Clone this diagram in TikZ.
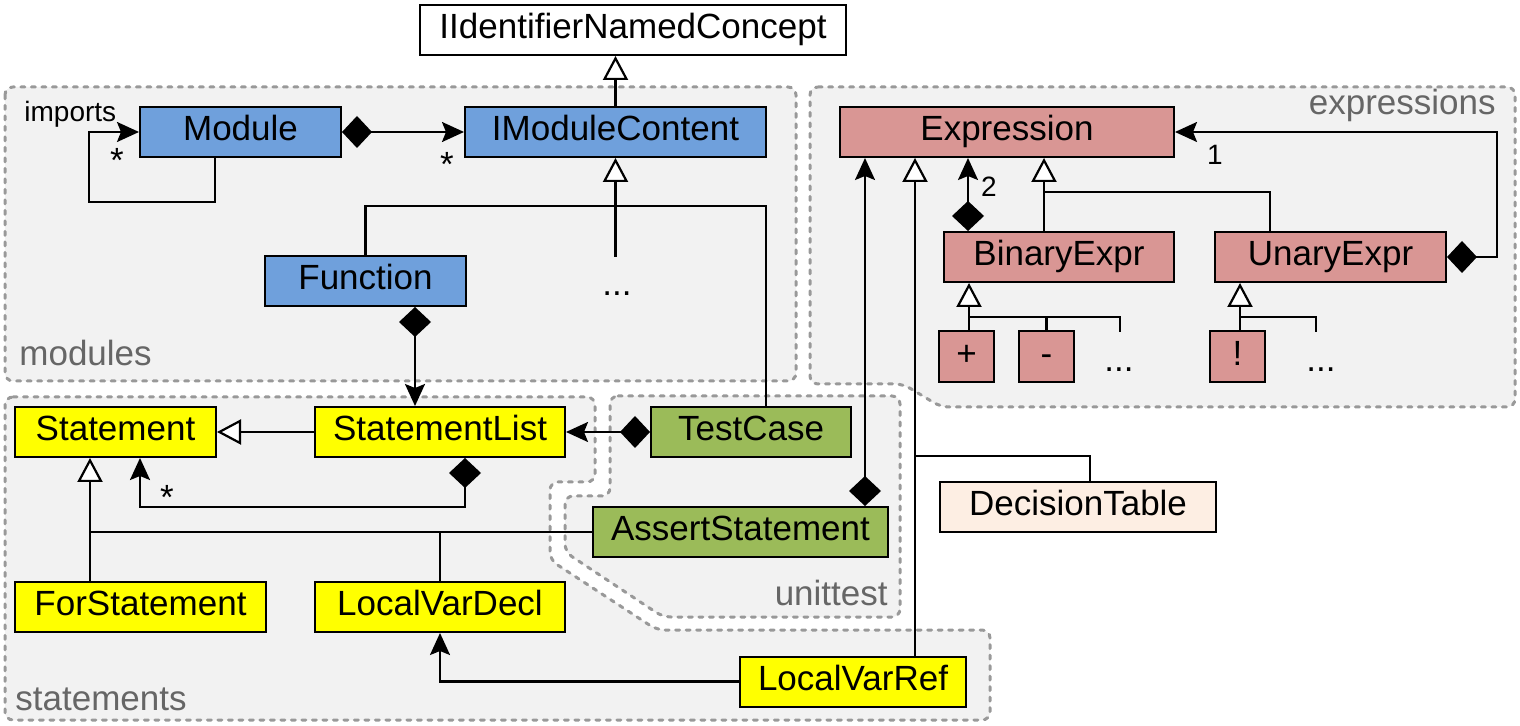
\documentclass[tikz,border=0pt]{standalone}
\usepackage{fontspec}
\setmainfont{Liberation Sans}
\setsansfont{Liberation Sans}
\usetikzlibrary{
  arrows.meta,
  positioning,
  calc
}
\definecolor{moduleblue}{HTML}{6FA0DC}
\definecolor{exprred}{HTML}{D99694}
\definecolor{stmtyellow}{HTML}{FFFF00}
\definecolor{testgreen}{HTML}{9BBB59}
\definecolor{tablepeach}{HTML}{FDEEE3}
\definecolor{pkgfill}{HTML}{F2F2F2}
\definecolor{pkgline}{HTML}{999999}
\definecolor{pkgtext}{HTML}{666666}

\begin{document}
\begin{tikzpicture}[
    x=0.5pt, y=-0.5pt,
    every node/.style={font=\sffamily\fontsize{17.5}{21}\selectfont},
    classbox/.style={rectangle, draw=black, line width=1pt, inner sep=0pt,
                     minimum height=25pt, text height=12.5pt, text depth=3.5pt},
    opbox/.style={classbox, minimum width=27.5pt, minimum height=25.5pt, fill=exprred},
    pkg/.style={draw=pkgline, fill=pkgfill, line width=1.5pt,
                dash pattern=on 2pt off 3.25pt, line cap=round, rounded corners=4pt},
    pkglabel/.style={text=pkgtext, inner sep=0pt},
    mult/.style={font=\sffamily\fontsize{14}{16}\selectfont, inner sep=0pt},
    star/.style={anchor=base, inner sep=0pt},
    dots/.style={anchor=base, inner sep=0pt},
    conn/.style={line width=1.1pt},
    gen/.style={conn, -{Triangle[open, fill=white, length=12pt, width=12.5pt]}},
    assoc/.style={conn, -{Stealth[length=11pt, width=10pt, inset=2pt]}},
    comp/.style={conn, {Diamond[length=15pt, width=16pt]}-{Stealth[length=11pt, width=10pt, inset=2pt]}},
]
\useasboundingbox (0,0) rectangle (1520,726);

% Packages
\draw[pkg] (5,87) rectangle (796,381);
\draw[pkg] (810,87) -- (1515,87) -- (1515,407) -- (941,407) -- (903,384) -- (810,384) -- cycle;
\draw[pkg] (5,397) -- (595,397) -- (595,482) -- (550,482) -- (550,560) -- (657,630)
           -- (990,630) -- (990,720) -- (5,720) -- cycle;
\draw[pkg] (610,396) -- (900,396) -- (900,617) -- (663,617) -- (565,552) -- (565,496)
           -- (610,496) -- cycle;

\node[pkglabel, anchor=base west] (lblmod)  at (19,366)   {modules};
\node[pkglabel, anchor=base east] (lblexpr) at (1496,115) {expressions};
\node[pkglabel, anchor=base west] (lblstmt) at (15,710)   {statements};
\node[pkglabel, anchor=base east] (lblunit) at (888,605)  {unittest};

% Classes
\node[classbox, fill=white, minimum width=213pt] (inc) at (633,30) {IIdentifierNamedConcept};

\node[classbox, fill=moduleblue, minimum width=100.5pt] (module)   at (240.5,132) {Module};
\node[classbox, fill=moduleblue, minimum width=150.5pt] (imc)      at (615.5,132) {IModuleContent};
\node[classbox, fill=moduleblue, minimum width=100.5pt] (function) at (365.5,281) {Function};
\node[dots] (dotsmc) at (617,296) {...};

\node[classbox, fill=exprred, minimum width=167pt] (expression) at (1007,132) {Expression};
\node[classbox, fill=exprred, minimum width=115pt] (binexpr)    at (1059,257) {BinaryExpr};
\node[classbox, fill=exprred, minimum width=115.5pt] (unexpr)   at (1330.5,257) {UnaryExpr};
\node[opbox] (plus)  at (966.5,356.5)  {+};
\node[opbox] (minus) at (1046.5,356.5) {-};
\node[opbox] (excl)  at (1237.5,356.5) {!};
\node[dots] (dotsbin) at (1119,372) {...};
\node[dots] (dotsun)  at (1321,372) {...};

\node[classbox, fill=stmtyellow, minimum width=100.5pt] (statement) at (115.5,432) {Statement};
\node[classbox, fill=stmtyellow, minimum width=125pt]   (stmtlist)  at (440,432)   {StatementList};
\node[classbox, fill=stmtyellow, minimum width=125.5pt] (forstmt)   at (140.5,607) {ForStatement};
\node[classbox, fill=stmtyellow, minimum width=125pt]   (lvdecl)    at (440,607)   {LocalVarDecl};
\node[classbox, fill=stmtyellow, minimum width=113pt]   (lvref)     at (853,681.5) {LocalVarRef};

\node[classbox, fill=testgreen, minimum width=100pt]   (testcase) at (751,432)   {TestCase};
\node[classbox, fill=testgreen, minimum width=147.5pt] (assert)   at (740.5,532) {AssertStatement};

\node[classbox, fill=tablepeach, minimum width=138pt] (dtable) at (1078,507) {DecisionTable};

% modules
\draw[gen] (imc.north) -- (imc.north |- inc.south);
\draw[assoc] ($(module.south)+(-25.5,0)$) -- ++(0,44) -| ($(module.west)+(-50,0)$) -- (module.west);
\node[mult, anchor=base west] (imports) at (24,122) {imports};
\node[star] (multmod) at (117,173) {*};
\draw[comp] (module.east) -- (imc.west);
\node[star] (multimc) at (447,177) {*};

\coordinate (mcstub) at (615.5,257);
\coordinate (tcbend) at (766,206);
\draw[gen] (mcstub) -- (imc.south);
\draw[conn] (function.north) |- (tcbend) -- (tcbend |- testcase.north);

\coordinate (fnout) at ($(function.south)+(49.5,0)$);
\draw[comp] (fnout) -- (fnout |- stmtlist.north);

% statements
\draw[gen] (stmtlist.west) -- (statement.east);
\coordinate (slloop) at (140,507);
\draw[comp] ($(stmtlist.south)+(25,0)$) |- (slloop) -- (slloop |- statement.south);
\node[star] (multstmt) at (167,510) {*};

\coordinate (stbranch) at (90,532);
\draw[gen] (stbranch |- forstmt.north) -- (stbranch |- statement.south);
\draw[conn] (stbranch) -- (assert.west);
\draw[conn] (lvdecl.north) -- (lvdecl.north |- stbranch);
\draw[assoc] (lvref.west) -| (lvdecl.south);

% unittest
\draw[comp] (testcase.west) -- (stmtlist.east);

% expressions
\coordinate (exin)  at ($(expression.south west)+(26,0)$);
\coordinate (exgen) at ($(expression.south west)+(76,0)$);
\draw[comp] (exin |- assert.north) -- (exin);
\draw[gen] (exgen |- lvref.north) -- (exgen);
\coordinate (dtbend) at (1090,456);
\draw[conn] (dtbend -| exgen) -- (dtbend) -- (dtbend |- dtable.north);

\coordinate (bincomp) at ($(binexpr.north west)+(25,0)$);
\draw[comp] (bincomp) -- (bincomp |- expression.south);
\node[mult] (multbin) at (989,187) {2};

\coordinate (exbranch) at (1044,192);
\coordinate (unbend) at (1270,192);
\draw[gen] (exbranch |- binexpr.north) -- (exbranch |- expression.south);
\draw[conn] (exbranch) -- (unbend) -- (unbend |- unexpr.north);
\draw[comp] (unexpr.east) -- ++(50,0) |- (expression.east);
\node[mult] (multun) at (1215,155) {1};

% operators
\coordinate (binsub) at (969,317);
\coordinate (binend) at (1120,332);
\draw[gen] (binsub |- plus.north) -- (binsub |- binexpr.south);
\draw[conn] (binsub) -| (binend);
\draw[conn] (minus.north) -- (minus.north |- binsub);
\coordinate (unsub) at (1240,317);
\coordinate (unend) at (1316,332);
\draw[gen] (unsub |- excl.north) -- (unsub |- unexpr.south);
\draw[conn] (unsub) -| (unend);

\end{tikzpicture}
\end{document}
